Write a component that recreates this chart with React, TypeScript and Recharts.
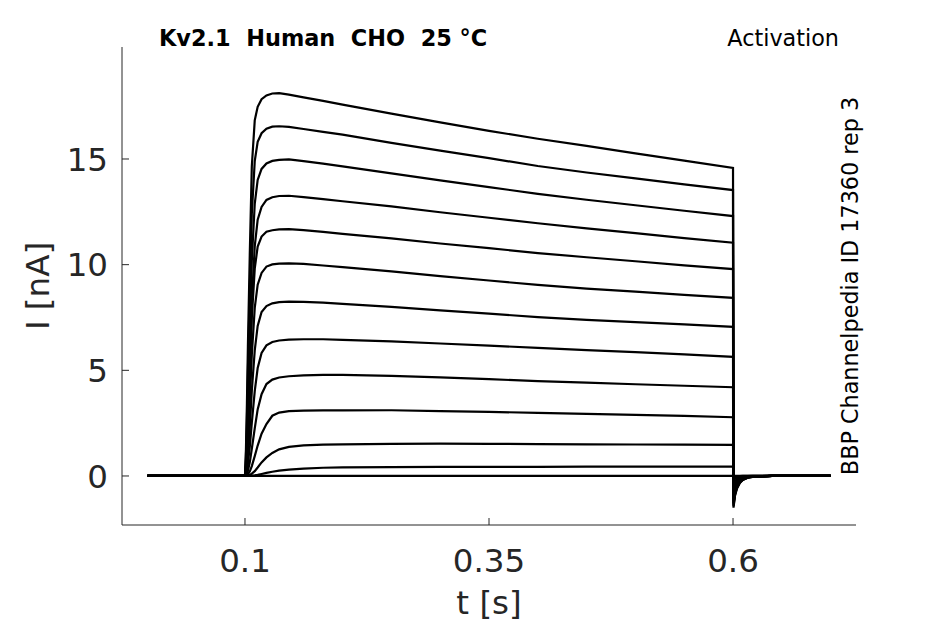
import React from 'react';
import { LineChart, Line, XAxis, YAxis } from 'recharts';

// time samples [s]
const TIME = [0, 0.1, 0.101, 0.102, 0.103, 0.105, 0.107, 0.11, 0.113, 0.117, 0.122, 0.128, 0.135, 0.145, 0.16, 0.18, 0.2, 0.25, 0.3, 0.35, 0.4, 0.45, 0.5, 0.55, 0.6, 0.6005, 0.602, 0.604, 0.607, 0.61, 0.615, 0.62, 0.64, 0.7];

// current traces [nA], one per voltage step
const I1 = [0, 0, 1.27, 3.44, 6.15, 10.68, 14.66, 16.83, 17.47, 17.83, 18.01, 18.1, 18.12, 18.05, 17.92, 17.75, 17.57, 17.15, 16.73, 16.33, 15.96, 15.62, 15.27, 14.92, 14.58, -1.5, -0.95, -0.6, -0.33, -0.19, -0.08, -0.04, 0, 0];
const I2 = [0, 0, 0.91, 2.65, 4.97, 8.94, 12.41, 14.9, 15.81, 16.22, 16.43, 16.53, 16.55, 16.52, 16.42, 16.28, 16.15, 15.76, 15.4, 15.04, 14.67, 14.36, 14.08, 13.8, 13.53, -1.43, -0.9, -0.57, -0.31, -0.18, -0.08, -0.04, 0, 0];
const I3 = [0, 0, 0.6, 1.95, 3.75, 7.04, 10.19, 12.88, 14.01, 14.53, 14.79, 14.91, 14.96, 14.98, 14.9, 14.78, 14.65, 14.32, 13.99, 13.67, 13.35, 13.07, 12.81, 12.55, 12.3, -1.35, -0.85, -0.54, -0.3, -0.18, -0.07, -0.03, 0, 0];
const I4 = [0, 0, 0.4, 1.33, 2.65, 5.44, 8.22, 10.87, 12.13, 12.73, 13.06, 13.19, 13.25, 13.26, 13.2, 13.1, 13.0, 12.76, 12.48, 12.22, 11.96, 11.72, 11.49, 11.26, 11.04, -1.28, -0.8, -0.51, -0.28, -0.17, -0.07, -0.03, 0, 0];
const I5 = [0, 0, 0.35, 1.17, 2.34, 4.91, 7.48, 9.81, 10.86, 11.33, 11.56, 11.63, 11.67, 11.68, 11.63, 11.55, 11.46, 11.24, 11.0, 10.78, 10.55, 10.35, 10.16, 9.97, 9.79, -1.17, -0.74, -0.47, -0.26, -0.15, -0.06, -0.03, 0, 0];
const I6 = [0, 0, 0.25, 0.8, 1.61, 3.62, 5.73, 7.95, 9.05, 9.61, 9.91, 10.01, 10.05, 10.06, 10.04, 9.96, 9.88, 9.68, 9.46, 9.25, 9.04, 8.87, 8.72, 8.57, 8.43, -1.05, -0.66, -0.42, -0.23, -0.14, -0.06, -0.03, 0, 0];
const I7 = [0, 0, 0.17, 0.5, 0.99, 2.39, 4.04, 5.94, 7.1, 7.76, 8.04, 8.17, 8.23, 8.25, 8.24, 8.2, 8.14, 8.0, 7.84, 7.68, 7.52, 7.39, 7.28, 7.17, 7.06, -0.9, -0.57, -0.36, -0.2, -0.12, -0.05, -0.02, 0, 0];
const I8 = [0, 0, 0.08, 0.26, 0.58, 1.42, 2.52, 4.01, 5.11, 5.82, 6.18, 6.34, 6.41, 6.45, 6.47, 6.47, 6.44, 6.37, 6.27, 6.17, 6.06, 5.96, 5.86, 5.75, 5.64, -0.72, -0.45, -0.29, -0.16, -0.09, -0.04, -0.02, 0, 0];
const I9 = [0, 0, 0.03, 0.11, 0.24, 0.67, 1.29, 2.25, 3.15, 3.87, 4.35, 4.56, 4.66, 4.72, 4.76, 4.78, 4.78, 4.74, 4.67, 4.58, 4.49, 4.42, 4.34, 4.27, 4.2, -0.54, -0.34, -0.22, -0.12, -0.07, -0.03, -0.01, 0, 0];
const I10 = [0, 0, 0.01, 0.03, 0.08, 0.22, 0.47, 0.94, 1.44, 2.0, 2.46, 2.85, 3.0, 3.07, 3.09, 3.1, 3.1, 3.11, 3.07, 3.03, 2.99, 2.94, 2.89, 2.84, 2.78, -0.36, -0.23, -0.14, -0.08, -0.05, -0.02, -0.01, 0, 0];
const I11 = [0, 0, 0, 0.01, 0.02, 0.05, 0.11, 0.23, 0.4, 0.64, 0.88, 1.09, 1.26, 1.38, 1.45, 1.48, 1.5, 1.52, 1.53, 1.52, 1.51, 1.5, 1.49, 1.48, 1.47, -0.18, -0.11, -0.07, -0.04, -0.02, -0.01, 0, 0, 0];
const I12 = [0, 0, 0, 0, 0.002, 0.006, 0.013, 0.03, 0.056, 0.095, 0.146, 0.2, 0.25, 0.3, 0.35, 0.39, 0.41, 0.42, 0.43, 0.43, 0.43, 0.44, 0.44, 0.44, 0.44, -0.06, -0.04, -0.02, -0.01, 0, 0, 0, 0, 0];
const I13 = [0, 0, 0, 0, 0, 0, 0, 0, 0, 0, 0, 0, 0, 0, 0, 0, 0, 0, 0, 0, 0, 0, 0, 0, 0, 0, 0, 0, 0, 0, 0, 0, 0, 0];

const SERIES = [I1, I2, I3, I4, I5, I6, I7, I8, I9, I10, I11, I12, I13];

const X_TICKS = [0.1, 0.35, 0.6];
const Y_TICKS = [0, 5, 10, 15];

const TITLE = 'Kv2.1  Human  CHO  25 °C';
const SUBTITLE = 'Activation';
const SIDE_NOTE = 'BBP Channelpedia ID 17360 rep 3';
const X_LABEL = 't [s]';
const Y_LABEL = 'I [nA]';

const rows = TIME.map((t, i) => {
  const row: Record<string, number> = { t };
  SERIES.forEach((s, k) => {
    row['s' + k] = s[i];
  });
  return row;
});

const AXIS_COLOR = '#262626';
const FONT = 'DejaVu Sans';

const XTick = (props: any) => {
  const { x, y, payload } = props;
  return (
    <g>
      <line x1={x} x2={x} y1={y} y2={y - 7} stroke={AXIS_COLOR} strokeWidth={1} />
      <text x={x} y={y + 47} textAnchor="middle" fontFamily={FONT} fontSize={32.5} fill={AXIS_COLOR}>
        {String(payload.value)}
      </text>
    </g>
  );
};

const YTick = (props: any) => {
  const { x, y, payload } = props;
  return (
    <g>
      <line x1={x} x2={x + 7} y1={y} y2={y} stroke={AXIS_COLOR} strokeWidth={1} />
      <text x={x - 14} y={y} dy="0.36em" textAnchor="end" fontFamily={FONT} fontSize={32.5} fill={AXIS_COLOR}>
        {String(payload.value)}
      </text>
    </g>
  );
};

export default function App() {
  return (
    <div style={{ position: 'absolute', left: 0, top: 0, width: 945, height: 624, background: '#fff' }}>
      <LineChart width={945} height={624} data={rows} margin={{ top: 47, right: 89, bottom: 0, left: 0 }}>
        <XAxis
          dataKey="t"
          type="number"
          domain={[-0.026, 0.726]}
          ticks={X_TICKS}
          allowDataOverflow
          height={99}
          tickSize={0}
          tickMargin={0}
          tickLine={false}
          axisLine={{ stroke: AXIS_COLOR, strokeWidth: 1 }}
          tick={<XTick />}
          interval={0}
        />
        <YAxis
          type="number"
          domain={[-2.32, 20.3]}
          ticks={Y_TICKS}
          allowDataOverflow
          width={122}
          tickSize={0}
          tickMargin={0}
          tickLine={false}
          axisLine={{ stroke: AXIS_COLOR, strokeWidth: 1 }}
          tick={<YTick />}
          interval={0}
        />
        {SERIES.map((_, k) => (
          <Line
            key={k}
            dataKey={'s' + k}
            type="linear"
            stroke="#000"
            strokeWidth={2.2}
            dot={false}
            activeDot={false}
            isAnimationActive={false}
          />
        ))}
      </LineChart>
      <svg width={945} height={624} style={{ position: 'absolute', left: 0, top: 0, pointerEvents: 'none' }}>
        <text x={159} y={46} fontFamily={FONT} fontWeight="bold" fontSize={22.4} fill="#000" style={{ whiteSpace: 'pre' }}>
          {TITLE}
        </text>
        <text x={839} y={46} textAnchor="end" fontFamily={FONT} fontSize={22.3} fill="#000">
          {SUBTITLE}
        </text>
        <text transform="translate(858,286) rotate(-90)" textAnchor="middle" fontFamily={FONT} fontSize={22.3} fill="#000">
          {SIDE_NOTE}
        </text>
        <text x={489} y={614} textAnchor="middle" fontFamily={FONT} fontSize={32.5} fill={AXIS_COLOR}>
          {X_LABEL}
        </text>
        <text transform="translate(49,286) rotate(-90)" textAnchor="middle" fontFamily={FONT} fontSize={32.5} fill={AXIS_COLOR}>
          {Y_LABEL}
        </text>
      </svg>
    </div>
  );
}
